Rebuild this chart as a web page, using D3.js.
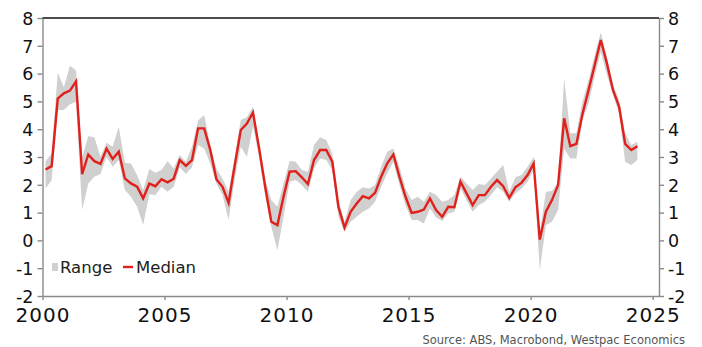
<!DOCTYPE html>
<html>
<head>
<meta charset="utf-8">
<script src="https://cdn.jsdelivr.net/npm/d3@7"></script>
<style>
  html, body { margin: 0; padding: 0; background: #fff; }
  svg { display: block; }
  text { font-family: "DejaVu Sans", sans-serif; }
</style>
</head>
<body>
<svg id="chart" width="702" height="347"></svg>
<script>
// Quarterly series, first quarter of 2000 onward (plotted at mid-quarter)
const median = [
  2.55, 2.67, 5.10, 5.29, 5.39, 5.72, 2.38, 3.09, 2.85, 2.75,
  3.30, 2.93, 3.19, 2.23, 2.05, 1.93, 1.51, 2.04, 1.95, 2.20,
  2.09, 2.22, 2.89, 2.68, 2.89, 4.03, 4.03, 3.25, 2.20, 1.93,
  1.35, 2.70, 3.97, 4.20, 4.60, 3.31, 1.93, 0.67, 0.55, 1.57,
  2.47, 2.49, 2.27, 2.03, 2.89, 3.25, 3.25, 2.83, 1.21, 0.46,
  1.03, 1.33, 1.59, 1.51, 1.71, 2.29, 2.77, 3.09, 2.29, 1.57,
  0.99, 1.03, 1.11, 1.51, 1.09, 0.85, 1.21, 1.19, 2.11, 1.69,
  1.27, 1.63, 1.63, 1.93, 2.17, 1.95, 1.53, 1.91, 2.07, 2.35,
  2.77, 0.03, 1.03, 1.45, 1.99, 4.39, 3.39, 3.47, 4.55, 5.41,
  6.31, 7.21, 6.37, 5.41, 4.81, 3.47, 3.25, 3.39
];
const rangeHigh = [
  2.85, 3.13, 6.04, 5.51, 6.28, 6.11, 3.00, 3.75, 3.71, 3.01,
  3.51, 3.37, 4.09, 2.79, 2.77, 2.35, 1.81, 2.57, 2.43, 2.53,
  2.86, 2.59, 3.07, 2.83, 3.37, 4.31, 4.51, 3.43, 2.59, 2.23,
  1.75, 3.00, 4.33, 4.43, 4.81, 3.50, 2.20, 1.45, 1.21, 2.05,
  2.86, 2.83, 2.53, 2.47, 3.43, 3.71, 3.61, 3.13, 1.45, 0.67,
  1.45, 1.75, 1.91, 1.87, 1.99, 2.65, 3.19, 3.31, 2.65, 1.87,
  1.45, 1.57, 1.39, 1.75, 1.63, 1.39, 1.45, 1.63, 2.29, 2.05,
  1.81, 2.03, 1.99, 2.23, 2.47, 2.71, 1.75, 2.27, 2.35, 2.65,
  3.01, 0.30, 1.75, 1.78, 2.11, 5.83, 3.85, 3.85, 4.99, 5.77,
  6.67, 7.48, 6.61, 5.59, 5.05, 3.85, 3.43, 3.55
];
const rangeLow = [
  1.87, 2.17, 4.69, 4.69, 4.90, 4.99, 1.09, 2.05, 2.29, 2.39,
  3.01, 2.65, 2.89, 1.81, 1.57, 1.21, 0.55, 1.66, 1.63, 1.93,
  1.75, 1.93, 2.63, 2.39, 2.63, 3.43, 3.31, 2.77, 2.05, 1.63,
  0.73, 2.20, 3.37, 3.01, 4.09, 3.00, 1.60, 0.49, -0.35, 0.85,
  2.11, 2.17, 1.99, 1.75, 2.59, 2.95, 2.89, 2.53, 0.85, 0.31,
  0.67, 0.85, 1.03, 1.15, 1.39, 1.93, 2.41, 2.83, 1.99, 1.27,
  0.73, 0.73, 0.61, 1.15, 0.82, 0.70, 0.97, 1.03, 1.87, 1.45,
  1.03, 1.27, 1.39, 1.63, 1.91, 1.75, 1.39, 1.69, 1.87, 2.11,
  2.53, -1.07, 0.55, 0.67, 1.09, 3.30, 2.95, 2.95, 4.33, 4.93,
  5.89, 6.79, 5.95, 5.23, 4.57, 2.83, 2.71, 2.89
];
const startYear = 2000;
const yTicks = [-2, -1, 0, 1, 2, 3, 4, 5, 6, 7, 8];
const xTicks = [2000, 2005, 2010, 2015, 2020, 2025];
const legendLabels = ["Range", "Median"];
const sourceText = "Source: ABS, Macrobond, Westpac Economics";

// Mid-quarter time stamps in decimal years
const quarters = median.map((_, i) => startYear + i / 4 + 0.125);
const rows = quarters.map((t, i) => ({ t, med: median[i], lo: rangeLow[i], hi: rangeHigh[i] }));

const svg = d3.select("#chart");
const plot = { left: 42.5, right: 659, top: 18, bottom: 296 };

const x = d3.scaleLinear().domain([2000, 2025.26]).range([plot.left, plot.right]);
const y = d3.scaleLinear().domain([-2, 8]).range([plot.bottom, plot.top]);

const axisGrey = "#8a8a8a";
const red = "#e1201b";
const band = "#d0d0d0";

// Range band
svg.append("path")
  .datum(rows)
  .attr("fill", band)
  .attr("d", d3.area().x(d => x(d.t)).y0(d => y(d.lo)).y1(d => y(d.hi)));

// Median line
svg.append("path")
  .datum(rows)
  .attr("fill", "none")
  .attr("stroke", red)
  .attr("stroke-width", 2.4)
  .attr("stroke-linejoin", "miter")
  .attr("d", d3.line().x(d => x(d.t)).y(d => y(d.med)));

// Axes
const styleAxis = (g, size) => {
  g.select(".domain").attr("stroke", axisGrey).attr("stroke-width", 1.4);
  g.selectAll(".tick line").attr("stroke", axisGrey).attr("stroke-width", 1.4);
  g.selectAll(".tick text").attr("fill", "#111").attr("font-size", size)
    .attr("font-family", "'DejaVu Sans', sans-serif");
};

const fmt = d => d < 0 ? "-" + Math.abs(d) : String(d);

svg.append("g")
  .attr("transform", `translate(${plot.left},0)`)
  .call(d3.axisLeft(y).tickValues(yTicks).tickFormat(fmt).tickSize(5).tickSizeOuter(0).tickPadding(4))
  .call(g => styleAxis(g, 17.5))
  .call(g => g.selectAll(".tick text").attr("dy", "0.36em"));

svg.append("g")
  .attr("transform", `translate(${plot.right},0)`)
  .call(d3.axisRight(y).tickValues(yTicks).tickFormat(fmt).tickSize(5).tickSizeOuter(0).tickPadding(4))
  .call(g => styleAxis(g, 17.5))
  .call(g => g.selectAll(".tick text").attr("dy", "0.36em"));

svg.append("g")
  .attr("transform", `translate(0,${plot.bottom})`)
  .call(d3.axisBottom(x).tickValues(xTicks).tickFormat(d3.format("d")).tickSize(4).tickSizeOuter(0).tickPadding(8))
  .call(g => styleAxis(g, 20))
  .call(g => g.selectAll(".tick text").attr("letter-spacing", "1px"));

// Top frame line
svg.append("line")
  .attr("x1", plot.left).attr("x2", plot.right)
  .attr("y1", plot.top).attr("y2", plot.top)
  .attr("stroke", "#111").attr("stroke-width", 1.4);

// Legend
const lg = svg.append("g").attr("transform", "translate(52,267)");
lg.append("rect").attr("x", 0).attr("y", -4).attr("width", 6).attr("height", 8).attr("fill", band);
lg.append("text").attr("x", 8).attr("y", 0).attr("dy", "0.36em")
  .attr("font-size", 16.5).attr("fill", "#222").text(legendLabels[0]);
lg.append("line").attr("x1", 71).attr("x2", 81).attr("y1", 0).attr("y2", 0)
  .attr("stroke", red).attr("stroke-width", 2.4);
lg.append("text").attr("x", 84).attr("y", 0).attr("dy", "0.36em")
  .attr("font-size", 16.5).attr("fill", "#222").text(legendLabels[1]);

// Source note
svg.append("text")
  .attr("x", 685).attr("y", 344)
  .attr("text-anchor", "end")
  .attr("font-size", 11.5)
  .attr("fill", "#555")
  .text(sourceText);
</script>
</body>
</html>
